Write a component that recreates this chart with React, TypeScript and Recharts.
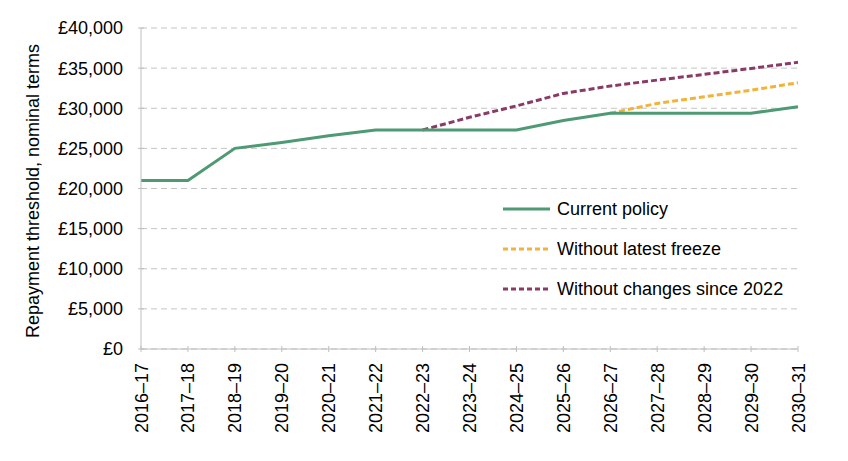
import { LineChart, Line, XAxis, YAxis, CartesianGrid, Label } from "recharts"

const years = [
  "2016–17", "2017–18", "2018–19", "2019–20", "2020–21", "2021–22", "2022–23", "2023–24",
  "2024–25", "2025–26", "2026–27", "2027–28", "2028–29", "2029–30", "2030–31",
]
const currentPolicy = [21000, 21000, 25000, 25725, 26575, 27295, 27295, 27295, 27295, 28470, 29385, 29385, 29385, 29385, 30200]
const withoutFreeze = [null, null, null, null, null, null, null, null, null, null, 29385, 30600, 31430, 32250, 33180]
const withoutChanges = [null, null, null, null, null, null, 27295, 28870, 30290, 31850, 32770, 33510, 34220, 34960, 35720]
const yTicks = [0, 5000, 10000, 15000, 20000, 25000, 30000, 35000, 40000]

const GREEN = "#4e9a74"
const YELLOW = "#f0b43a"
const PURPLE = "#8a3a66"
const FONT = "'Liberation Sans', Arial, sans-serif"
const FONT_SIZE = 18

const data = years.map((year, i) => ({
  year,
  current: currentPolicy[i],
  freeze: withoutFreeze[i],
  changes: withoutChanges[i],
}))

const legendItems = [
  { label: "Current policy", color: GREEN, dash: undefined },
  { label: "Without latest freeze", color: YELLOW, dash: "5 3" },
  { label: "Without changes since 2022", color: PURPLE, dash: "5 3" },
]

const money = (v: number) => (v === 0 ? "£0" : "£" + v.toLocaleString("en-GB"))

function YearTick({ x, y, payload }: any) {
  return (
    <text
      x={0}
      y={0}
      transform={`translate(${x + 6.5},${y + 6}) rotate(-90)`}
      textAnchor="end"
      fontSize={FONT_SIZE}
      fontFamily={FONT}
      fill="#000"
    >
      {payload.value}
    </text>
  )
}

function AxisTitle() {
  const cx = 33
  const cy = 191
  return (
    <text
      x={cx}
      y={cy}
      transform={`rotate(-90 ${cx} ${cy})`}
      textAnchor="middle"
      dominantBaseline="central"
      fontSize={FONT_SIZE}
      fontFamily={FONT}
      fill="#000"
    >
      Repayment threshold, nominal terms
    </text>
  )
}

function LegendBox() {
  return (
    <div style={{ position: "absolute", left: 500, top: 189, fontFamily: FONT, fontSize: FONT_SIZE, color: "#000" }}>
      {legendItems.map((item) => (
        <div key={item.label} style={{ display: "flex", alignItems: "center", height: 40 }}>
          <svg width={52} height={6} style={{ marginRight: 5 }}>
            <line x1={3} y1={3} x2={50} y2={3} stroke={item.color} strokeWidth={3} strokeDasharray={item.dash} />
          </svg>
          <span>{item.label}</span>
        </div>
      ))}
    </div>
  )
}

export default function App() {
  return (
    <div style={{ position: "absolute", left: 0, top: 0, width: 848, height: 461, background: "#fff" }}>
      <LineChart width={848} height={461} data={data} margin={{ top: 28, right: 50, bottom: 0, left: 20 }}>
        <CartesianGrid vertical={false} stroke="#c4c4c4" strokeDasharray="6 4" />
        <XAxis
          dataKey="year"
          interval={0}
          height={112}
          tick={<YearTick />}
          tickSize={6}
          axisLine={{ stroke: "#bfbfbf" }}
          tickLine={{ stroke: "#bfbfbf", transform: "translate(0,-3)" }}
        />
        <YAxis
          domain={[0, 40000]}
          ticks={yTicks}
          interval={0}
          width={121}
          tickFormatter={money}
          tick={{ fontSize: FONT_SIZE, fontFamily: FONT, fill: "#000" }}
          tickSize={6}
          tickMargin={12}
          axisLine={{ stroke: "#bfbfbf" }}
          tickLine={{ stroke: "#bfbfbf", transform: "translate(3,0)" }}
        >
          <Label content={<AxisTitle />} />
        </YAxis>
        <Line dataKey="changes" stroke={PURPLE} strokeWidth={3} strokeDasharray="6 3" dot={false} isAnimationActive={false} />
        <Line dataKey="freeze" stroke={YELLOW} strokeWidth={3} strokeDasharray="6 3" dot={false} isAnimationActive={false} />
        <Line dataKey="current" stroke={GREEN} strokeWidth={3} dot={false} isAnimationActive={false} type="linear" />
      </LineChart>
      <LegendBox />
    </div>
  )
}
